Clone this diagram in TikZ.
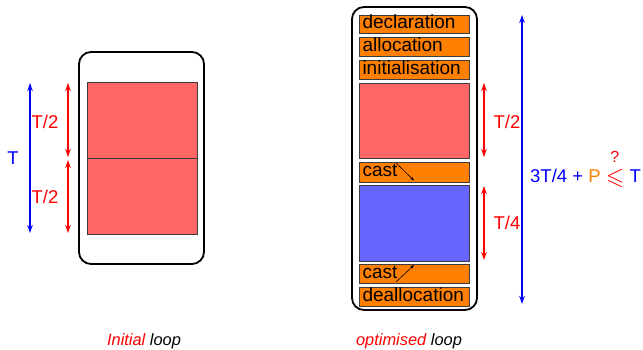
\documentclass[tikz,border=0pt]{standalone}
\usepackage{amsmath,amssymb}
\usepackage{graphicx}
\usepackage{fontspec}
\setmainfont{Liberation Sans}
\usetikzlibrary{arrows.meta}
\definecolor{myorange}{RGB}{255,128,0}
\definecolor{myred}{RGB}{255,102,102}
\definecolor{myblue}{RGB}{102,102,255}
\definecolor{edgegray}{RGB}{60,60,60}
\tikzset{
  frame/.style={draw=black, line width=1.8pt, rounded corners=12pt, minimum width=125pt, inner sep=0pt},
  block/.style={draw=edgegray, line width=0.8pt, minimum width=110pt, inner sep=0pt},
  obox/.style={draw=edgegray, line width=0.8pt, fill=myorange, minimum width=110pt, text width=103pt, align=left,
    inner xsep=3.5pt, inner ysep=0pt, text height=13.5pt, text depth=3.5pt, font=\fontsize{19}{20}\selectfont},
  redarr/.style={draw=red, line width=1.4pt, {Stealth[length=8pt,width=5.5pt]}-{Stealth[length=8pt,width=5.5pt]}},
  bluearr/.style={draw=blue, line width=1.4pt, {Stealth[length=8pt,width=5.5pt]}-{Stealth[length=8pt,width=5.5pt]}},
  lbl/.style={font=\fontsize{18.5}{20}\selectfont, inner sep=0pt},
  castarr/.style={draw=black, line width=0.6pt, -{Stealth[length=4pt,width=3pt]}},
  captext/.style={font=\fontsize{16.4}{18}\selectfont\itshape, inner sep=0pt}
}
\begin{document}
\begin{tikzpicture}[x=1pt,y=-1pt]
\useasboundingbox (0,0) rectangle (643,350);
% left panel
\node[frame, minimum height=212pt] (lframe) at (141.5,158) {};
\node[block, fill=myred, minimum height=75.6pt] (l1) at (142,120.5) {};
\node[block, fill=myred, minimum height=75.7pt] (l2) at (142,196.2) {};
\coordinate (ltT) at (30,83);
\coordinate (lbT) at (30,233);
\draw[bluearr] (ltT) -- (lbT);
\node[lbl, text=blue] (lT) at (13,158) {T};
\coordinate (la1) at (68,83);
\coordinate (lb1) at (68,157);
\coordinate (la2) at (68,160);
\coordinate (lb2) at (68,233);
\draw[redarr] (la1) -- (lb1);
\draw[redarr] (la2) -- (lb2);
\node[lbl, text=red] (lh1) at (45,122) {T/2};
\node[lbl, text=red] (lh2) at (45,197) {T/2};
% right panel
\node[frame, minimum height=303pt] (rframe) at (414.5,158.5) {};
\node[obox, minimum height=18pt] (decl) at (414,24) {declaration};
\node[obox, minimum height=19pt] (alloc) at (414,46.5) {allocation};
\node[obox, minimum height=19pt] (init) at (414,69.5) {initialisation};
\node[block, fill=myred, minimum height=75pt] (rred) at (414,120.5) {};
\node[obox, minimum height=20pt] (cast1) at (414,172) {cast};
\node[block, fill=myblue, minimum height=76pt] (rblue) at (414,223) {};
\node[obox, minimum height=19pt] (cast2) at (414,273.5) {cast};
\node[obox, minimum height=19pt] (dealloc) at (414,296.5) {deallocation};
\coordinate (c1a) at (396,163);
\coordinate (c1b) at (414,180.5);
\coordinate (c2a) at (396,282);
\coordinate (c2b) at (414,265);
\draw[castarr] (c1a) -- (c1b);
\draw[castarr] (c2a) -- (c2b);
\coordinate (ra1) at (484,83);
\coordinate (rb1) at (484,157);
\coordinate (ra2) at (484,186);
\coordinate (rb2) at (484,260);
\draw[redarr] (ra1) -- (rb1);
\draw[redarr] (ra2) -- (rb2);
\node[lbl, text=red] (rh1) at (507,122) {T/2};
\node[lbl, text=red] (rh2) at (507,223) {T/4};
\coordinate (rT1) at (522,15);
\coordinate (rT2) at (522,304);
\draw[bluearr] (rT1) -- (rT2);
\node[lbl, anchor=west] (eq) at (530,170) {\textcolor{blue}{3T/4 +} \textcolor{myorange}{P} \textcolor{red}{\makebox[0pt][l]{\raisebox{20pt}{\hspace{4.5pt}\fontsize{16}{18}\selectfont ?}}\raisebox{-2pt}{\scalebox{1.3}{$\leqslant$}}} \textcolor{blue}{T}};
% captions
\node[captext] (capl) at (144,341) {\textcolor{red}{Initial} loop};
\node[captext] (capr) at (409,341) {\textcolor{red}{optimised} loop};
\end{tikzpicture}
\end{document}
